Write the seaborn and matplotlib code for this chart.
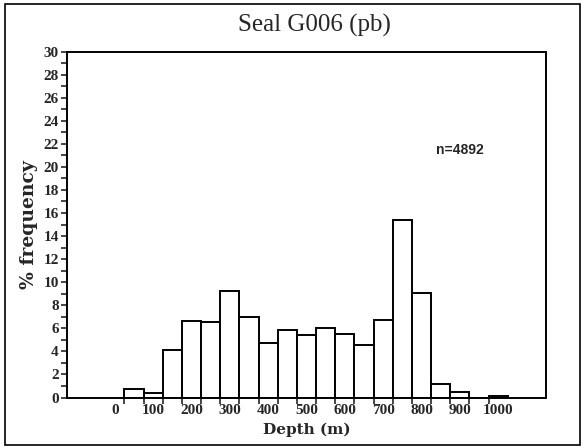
import numpy as np
import pandas as pd
import matplotlib
matplotlib.use("Agg")
import matplotlib.pyplot as plt
from matplotlib.patches import Rectangle
from matplotlib.ticker import FixedLocator, MultipleLocator
import seaborn as sns

# ---- data ----
bin_start = [50, 100, 150, 200, 250, 300, 350, 400, 450, 500, 550, 600,
             650, 700, 750, 800, 850, 900, 950, 1000]
pct_freq = [0.7, 0.4, 4.1, 6.65, 6.55, 9.25, 6.95, 4.7, 5.85, 5.45, 6.05, 5.5,
            4.55, 6.75, 15.4, 9.1, 1.2, 0.5, 0.0, 0.12]
depth_labels = ["0", "100", "200", "300", "400", "500", "600", "700", "800", "900", "1000"]
depth_label_values = [0, 100, 200, 300, 400, 500, 600, 700, 800, 900, 1000]
bin_width = 50
title_text = "Seal G006 (pb)"
n_text = "n=4892"

df = pd.DataFrame({"depth": bin_start, "pct": pct_freq})
edges = list(bin_start) + [bin_start[-1] + bin_width]

sns.set_style("ticks")
plt.rcParams["font.family"] = ["Liberation Serif", "DejaVu Serif"]

fig = plt.figure(figsize=(5.85, 4.48), dpi=100)
ax = fig.add_axes([0.1145, 0.1127, 0.8188, 0.7723])

sns.histplot(data=df, x="depth", weights="pct", bins=edges, stat="count",
             color="white", edgecolor="black", linewidth=1.4, alpha=1.0, ax=ax)

ax.set_xlim(-100, 1150)
ax.set_ylim(0, 30)

# y ticks
ax.yaxis.set_major_locator(MultipleLocator(2))
ax.yaxis.set_minor_locator(MultipleLocator(1))
ax.tick_params(axis="y", which="both", direction="out", length=4, width=1.2,
               pad=2, left=True)
for lab in ax.get_yticklabels():
    lab.set_fontweight("bold")
    lab.set_fontsize(11)

# x ticks: labels centred on bins, small ticks at bin edges
ax.xaxis.set_major_locator(FixedLocator([v + bin_width / 2 for v in depth_label_values]))
ax.set_xticklabels(depth_labels, fontsize=11, fontweight="bold")
ax.xaxis.set_minor_locator(FixedLocator(edges[:-1]))
ax.tick_params(axis="x", which="major", length=0, pad=5)
ax.tick_params(axis="x", which="minor", direction="out", length=4, width=1.2)

for s in ax.spines.values():
    s.set_visible(True)
    s.set_linewidth(1.4)
    s.set_color("black")

ax.set_xlabel("Depth (m)", fontsize=11, fontweight="bold", labelpad=4,
              family=["DejaVu Serif"])
ax.set_ylabel("% frequency", fontsize=13.5, fontweight="bold", labelpad=4,
              family=["DejaVu Serif"])

ax.text(864, 21.5, n_text, fontsize=10, fontweight="bold", va="center", ha="left",
        family=["Liberation Sans Narrow", "Liberation Sans", "DejaVu Sans"])

fig.text(0.537, 0.944, title_text, fontsize=18, ha="center", va="center")

# outer frame
fig.patches.append(Rectangle((0.008, 0.006), 0.984, 0.986, transform=fig.transFigure,
                             fill=False, edgecolor="black", linewidth=1.2))

fig.savefig("out.png", dpi=100)
